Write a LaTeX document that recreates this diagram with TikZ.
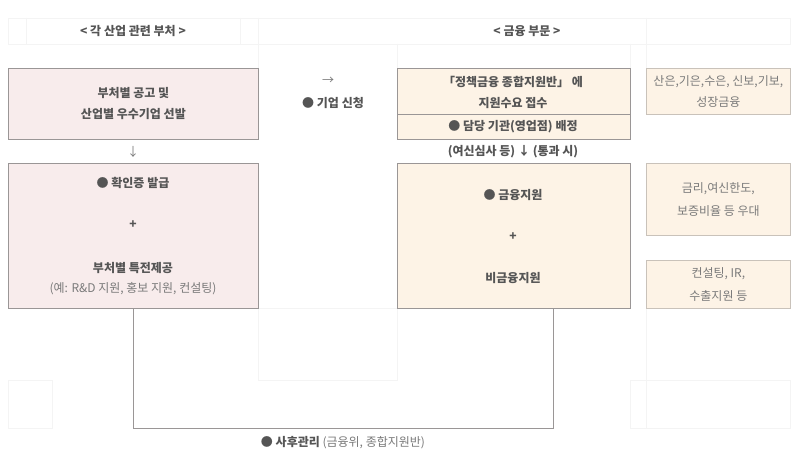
\documentclass[tikz,border=0pt]{standalone}
\usepackage{fontspec}
\setmainfont{Noto Sans CJK KR}
\usetikzlibrary{calc}
\definecolor{pinkfill}{HTML}{F8ECEC}
\definecolor{creamfill}{HTML}{FDF3E6}
\definecolor{boxline}{HTML}{9A9696}
\definecolor{sideline}{HTML}{C9C2BA}
\definecolor{txt}{HTML}{555555}
\definecolor{ltxt}{HTML}{7A7A7A}
\definecolor{faint}{HTML}{F4F4F4}
\begin{document}
\begin{tikzpicture}[x=1pt,y=-1pt,
  box/.style={draw=boxline, line width=0.8pt, inner sep=0pt, anchor=north west},
  sidebox/.style={draw=sideline, line width=0.7pt, fill=creamfill, inner sep=0pt, anchor=north west},
  bt/.style={text=txt, font=\fontsize{12}{21}\selectfont\bfseries, align=center, inner sep=0pt},
  lt/.style={text=ltxt, font=\fontsize{12}{23}\selectfont, align=center, inner sep=0pt},
  conn/.style={draw=boxline, line width=0.8pt},
  grid/.style={draw=faint, line width=0.6pt}]
\useasboundingbox (0,0) rectangle (800,452);
\fill[white] (0,0) rectangle (800,452);
% faint background grid
\draw[grid] (8,18) rectangle (790,44);
\draw[grid] (26,18) -- (26,44) (240,18) -- (240,44) (258,18) -- (258,68) (397,44) -- (397,68) (630,44) -- (630,68) (646,18) -- (646,68);
\draw[grid] (258,308) rectangle (397,380);
\draw[grid] (8,380) rectangle (52,428);
\draw[grid] (630,380) rectangle (790,428) (646,308) -- (646,428);
% header labels
\node[bt] (h1) at (133,31) {< 각 산업 관련 부처 >};
\node[bt] (h2) at (527,31) {< 금융 부문 >};
% left column
\node[box, fill=pinkfill, minimum width=250pt, minimum height=71pt] (A) at (8,68) {};
\node[bt] (At) at (A.center) {부처별 공고 및\\산업별 우수기업 선발};
\node[lt, font=\fontsize{12}{13}\selectfont] (darr1) at (133,152) {↓};
\node[box, fill=pinkfill, minimum width=250pt, minimum height=145pt] (D) at (8,163) {};
\node[bt] (D1) at (133,183) {● 확인증 발급};
\node[bt] (D2) at (133,225) {+};
\node[bt] (D3) at (133,268) {부처별 특전제공};
\node[lt] (D4) at (133,289) {(예: R\&D 지원, 홍보 지원, 컨설팅)};
% middle
\node[lt, font=\fontsize{12}{13}\selectfont] (rarr) at (328,81) {→};
\node[bt] (apply) at (333,103) {● 기업 신청};
% finance column
\node[box, fill=creamfill, minimum width=233pt, minimum height=71pt] (B) at (397,68) {};
\draw[conn] (B.west |- 0,114) -- (B.east |- 0,114);
\node[bt] (B1) at (513,92) {「정책금융 종합지원반」 에\\지원수요 접수};
\node[bt] (B2) at (513,127) {● 담당 기관(영업점) 배정};
\node[bt] (review) at (513,152) {(여신심사 등) ↓ (통과 시)};
\node[box, fill=creamfill, minimum width=233pt, minimum height=145pt] (E) at (397,163) {};
\node[bt] (E1) at (513,195) {● 금융지원};
\node[bt] (E2) at (513,237) {+};
\node[bt] (E3) at (513,278) {비금융지원};
% side boxes
\node[sidebox, minimum width=144pt, minimum height=46pt] (C) at (646,68) {};
\node[lt, font=\fontsize{12}{21}\selectfont] (Ct) at (C.center) {산은,기은,수은, 신보,기보,\\성장금융};
\node[sidebox, minimum width=144pt, minimum height=72pt] (F) at (646,163) {};
\node[lt] (Ft) at (F.center) {금리,여신한도,\\보증비율 등 우대};
\node[sidebox, minimum width=144pt, minimum height=48pt] (G) at (646,260) {};
\node[lt] (Gt) at (G.center) {컨설팅, IR,\\수출지원 등};
% follow-up loop
\coordinate (Eend) at ([xshift=-77pt]E.south east);
\draw[conn] (D.south) -- ++(0,120) -| (Eend);
\node[inner sep=0pt, font=\fontsize{12}{13}\selectfont] (post) at (343,443) {\textcolor{txt}{\bfseries ● 사후관리} \textcolor{ltxt}{(금융위, 종합지원반)}};
\end{tikzpicture}
\end{document}
